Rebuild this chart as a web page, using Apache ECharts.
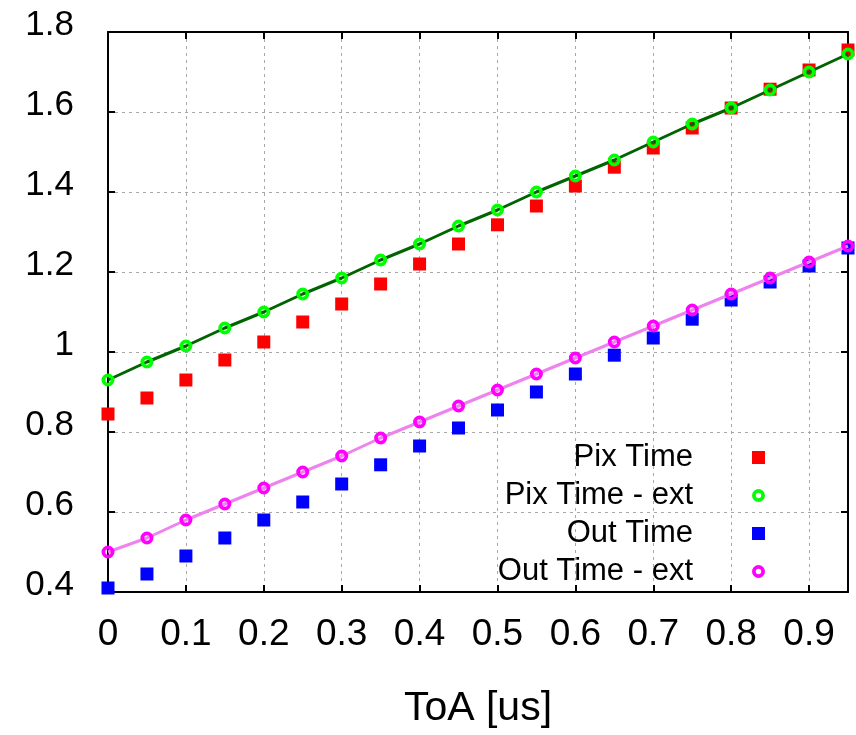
<!DOCTYPE html>
<html>
<head>
<meta charset="utf-8">
<script src="https://cdn.jsdelivr.net/npm/echarts@6/dist/echarts.min.js"></script>
<style>
html,body{margin:0;padding:0;background:#fff;}
#chart{width:856px;height:735px;}
</style>
</head>
<body>
<div id="chart"></div>
<script>
// ToA values (us)
var toa = [0, 0.05, 0.1, 0.15, 0.2, 0.25, 0.3, 0.35, 0.4, 0.45, 0.5, 0.55, 0.6, 0.65, 0.7, 0.75, 0.8, 0.85, 0.9, 0.95];
var pixTime    = [0.845, 0.885, 0.93, 0.98, 1.025, 1.075, 1.12, 1.17, 1.22, 1.27, 1.318, 1.365, 1.415, 1.462, 1.51, 1.56, 1.61, 1.657, 1.705, 1.755];
var pixTimeExt = [0.93, 0.975, 1.015, 1.06, 1.10, 1.145, 1.185, 1.23, 1.27, 1.315, 1.355, 1.40, 1.44, 1.48, 1.525, 1.57, 1.61, 1.655, 1.70, 1.745];
var outTime    = [0.41, 0.445, 0.49, 0.535, 0.58, 0.625, 0.67, 0.718, 0.765, 0.81, 0.855, 0.90, 0.945, 0.992, 1.035, 1.082, 1.13, 1.175, 1.215, 1.26];
var outTimeExt = [0.50, 0.535, 0.58, 0.62, 0.66, 0.70, 0.74, 0.785, 0.825, 0.865, 0.905, 0.945, 0.985, 1.025, 1.065, 1.105, 1.145, 1.185, 1.225, 1.265];
var seriesNames = ['Pix Time', 'Pix Time - ext', 'Out Time', 'Out Time - ext'];

function pairs(ys) { return toa.map(function (x, i) { return [x, ys[i]]; }); }

var FONT = 'Liberation Sans, Arial, sans-serif';
var RING = 'path://M0,-6A6,6 0 1 1 0,6A6,6 0 1 1 0,-6ZM0,-2.5A2.5,2.5 0 1 0 0,2.5A2.5,2.5 0 1 0 0,-2.5Z';
var chart = echarts.init(document.getElementById('chart'), null, { renderer: 'canvas' });

var gridLine = { show: true, lineStyle: { color: '#a8a8a8', width: 1, type: [3, 4] } };
var axisLine = { show: true, onZero: false, lineStyle: { color: '#000', width: 2 } };
var tick = { show: true, inside: true, length: 7, lineStyle: { color: '#000', width: 2 } };

chart.setOption({
  animation: false,
  backgroundColor: '#fff',
  grid: { left: 108, right: 8, top: 32, bottom: 143, containLabel: false },
  legend: {
    orient: 'vertical',
    align: 'right',
    right: 91,
    top: 442,
    padding: 0,
    itemGap: 7,
    itemWidth: 13,
    itemHeight: 13,
    data: [
      { name: seriesNames[0], icon: 'rect' },
      { name: seriesNames[1], icon: RING },
      { name: seriesNames[2], icon: 'rect' },
      { name: seriesNames[3], icon: RING }
    ],
    textStyle: { fontFamily: FONT, fontSize: 31, color: '#000', lineHeight: 31, padding: [0, 54, 0, 0] }
  },
  xAxis: [{
    type: 'value', min: 0, max: 0.95, interval: 0.1,
    name: 'ToA [us]', nameLocation: 'middle', nameGap: 96,
    nameTextStyle: { fontFamily: FONT, fontSize: 41, color: '#000' },
    axisLine: axisLine,
    axisTick: tick,
    axisLabel: { fontFamily: FONT, fontSize: 37, color: '#000', margin: 24, showMaxLabel: false },
    splitLine: gridLine
  }, {
    type: 'value', min: 0, max: 0.95, interval: 0.1, position: 'top',
    axisLine: axisLine,
    axisTick: tick,
    axisLabel: { show: false },
    splitLine: { show: false }
  }],
  yAxis: [{
    type: 'value', min: 0.4, max: 1.8, interval: 0.2,
    axisLine: axisLine,
    axisTick: tick,
    axisLabel: { fontFamily: FONT, fontSize: 35, color: '#000', margin: 34, verticalAlign: 'bottom', lineHeight: 14 },
    splitLine: gridLine
  }, {
    type: 'value', min: 0.4, max: 1.8, interval: 0.2, position: 'right',
    axisLine: axisLine,
    axisTick: tick,
    axisLabel: { show: false },
    splitLine: { show: false }
  }],
  series: [
    {
      name: seriesNames[0], type: 'scatter', data: pairs(pixTime),
      symbol: 'rect', symbolSize: 13, itemStyle: { color: '#ff0000', opacity: 1 }, z: 2
    },
    {
      name: seriesNames[2], type: 'scatter', data: pairs(outTime),
      symbol: 'rect', symbolSize: 13, itemStyle: { color: '#0000ff', opacity: 1 }, z: 2
    },
    {
      name: 'Pix fit', type: 'line', data: pairs(pixTimeExt), showSymbol: false, symbol: 'none',
      lineStyle: { color: '#006400', width: 3 }, z: 3
    },
    {
      name: 'Out fit', type: 'line', data: pairs(outTimeExt), showSymbol: false, symbol: 'none',
      lineStyle: { color: '#ee82ee', width: 3 }, z: 3
    },
    {
      name: seriesNames[1], type: 'scatter', data: pairs(pixTimeExt),
      symbol: RING, symbolSize: 13,
      itemStyle: { color: '#00ff00', opacity: 1 }, z: 4
    },
    {
      name: seriesNames[3], type: 'scatter', data: pairs(outTimeExt),
      symbol: RING, symbolSize: 13,
      itemStyle: { color: '#ff00ff', opacity: 1 }, z: 4
    }
  ]
});
</script>
</body>
</html>
